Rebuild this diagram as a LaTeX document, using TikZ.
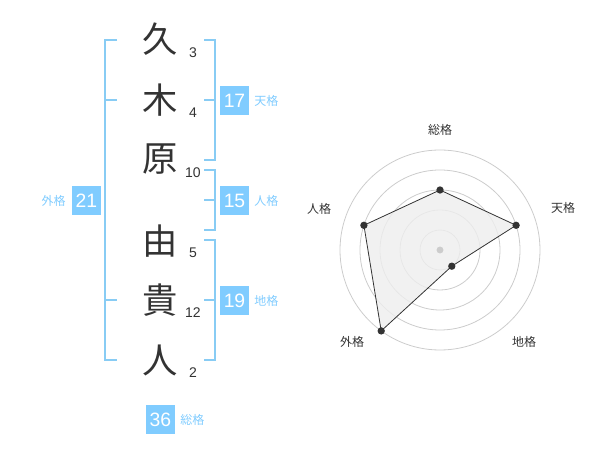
\documentclass[tikz,border=0pt]{standalone}
\usepackage{fontspec}
\setmainfont{Liberation Sans}
\newfontfamily\cjk{Noto Sans CJK JP}
\definecolor{brk}{HTML}{88CCF4}
\definecolor{boxc}{HTML}{80CCFF}
\definecolor{ink}{HTML}{333333}
\definecolor{ring}{HTML}{CCCCCC}
\definecolor{polyfill}{HTML}{EEEEEE}
\begin{document}
\begin{tikzpicture}[x=0.75pt,y=-0.75pt,
  kanji/.style={font=\cjk\fontsize{26.5}{27}\selectfont, text=ink, inner sep=0pt},
  strokes/.style={font=\fontsize{10.5}{11}\selectfont, text=ink, inner sep=0pt},
  bracket/.style={draw=brk, line width=1.5pt},
  numbox/.style={fill=boxc, text=white, minimum width=21.75pt, minimum height=21.75pt, inner sep=0pt, font=\fontsize{14.5}{15}\selectfont},
  kaku/.style={font=\cjk\fontsize{9}{10}\selectfont, text=boxc, inner sep=0pt},
  rlabel/.style={font=\cjk\fontsize{9}{10}\selectfont, text=ink, inner sep=0pt},
  ringst/.style={draw=ring, line width=0.6pt},
  dot/.style={circle, fill=ink, inner sep=0pt, minimum size=5.5pt}
]
\useasboundingbox (0,0) rectangle (600,470);
% kanji
\node[kanji] (k1) at (160,39) {久};
\node[kanji] (k2) at (160,100) {木};
\node[kanji] (k3) at (160,159) {原};
\node[kanji] (k4) at (160,241) {由};
\node[kanji] (k5) at (160,300) {貴};
\node[kanji] (k6) at (160,360) {人};
% stroke counts
\node[strokes] (s1) at (193,53) {3};
\node[strokes] (s2) at (193,113) {4};
\node[strokes] (s3) at (193,173) {10};
\node[strokes] (s4) at (193,253) {5};
\node[strokes] (s5) at (193,313) {12};
\node[strokes] (s6) at (193,373) {2};
% brackets
\draw[bracket] (117,40) -- (105,40) -- (105,360) -- (117,360);
\draw[bracket] (105,100) -- (117,100);
\draw[bracket] (105,300) -- (117,300);
\draw[bracket] (204,40) -- (215,40) -- (215,160) -- (204,160);
\draw[bracket] (204,100) -- (215,100);
\draw[bracket] (204,170) -- (215,170) -- (215,230) -- (204,230);
\draw[bracket] (204,200) -- (215,200);
\draw[bracket] (204,240) -- (215,240) -- (215,360) -- (204,360);
\draw[bracket] (204,300) -- (215,300);
% number boxes
\node[numbox] (b17) at (234.5,100.5) {17};
\node[kaku, anchor=west] (l17) at (254,101) {天格};
\node[numbox] (b15) at (234.5,200.5) {15};
\node[kaku, anchor=west] (l15) at (254,201) {人格};
\node[numbox] (b19) at (234.5,300.5) {19};
\node[kaku, anchor=west] (l19) at (254,301) {地格};
\node[numbox] (b21) at (86.5,200.5) {21};
\node[kaku, anchor=east] (l21) at (66,201) {外格};
\node[numbox] (b36) at (160.5,419.5) {36};
\node[kaku, anchor=west] (l36) at (180,420) {総格};
% radar
\coordinate (c) at (440,250);
\foreach \r in {20,40,60,80,100} \draw[ringst] (c) circle[radius=\r*0.75pt];
\coordinate (p1) at (440,190);
\coordinate (p2) at (516.1,225.3);
\coordinate (p3) at (451.8,266.2);
\coordinate (p4) at (381.2,330.9);
\coordinate (p5) at (363.9,225.3);
\filldraw[fill=polyfill, fill opacity=0.8, draw=ink, line width=0.6pt] (p1) -- (p2) -- (p3) -- (p4) -- (p5) -- cycle;
\fill[ring] (c) circle[radius=2.6pt];
\foreach \p in {p1,p2,p3,p4,p5} \node[dot] at (\p) {};
\node[rlabel] (r1) at (440,130) {総格};
\node[rlabel] (r2) at (563,208) {天格};
\node[rlabel] (r3) at (524,342) {地格};
\node[rlabel] (r4) at (352,342) {外格};
\node[rlabel] (r5) at (319,209) {人格};
\end{tikzpicture}
\end{document}
